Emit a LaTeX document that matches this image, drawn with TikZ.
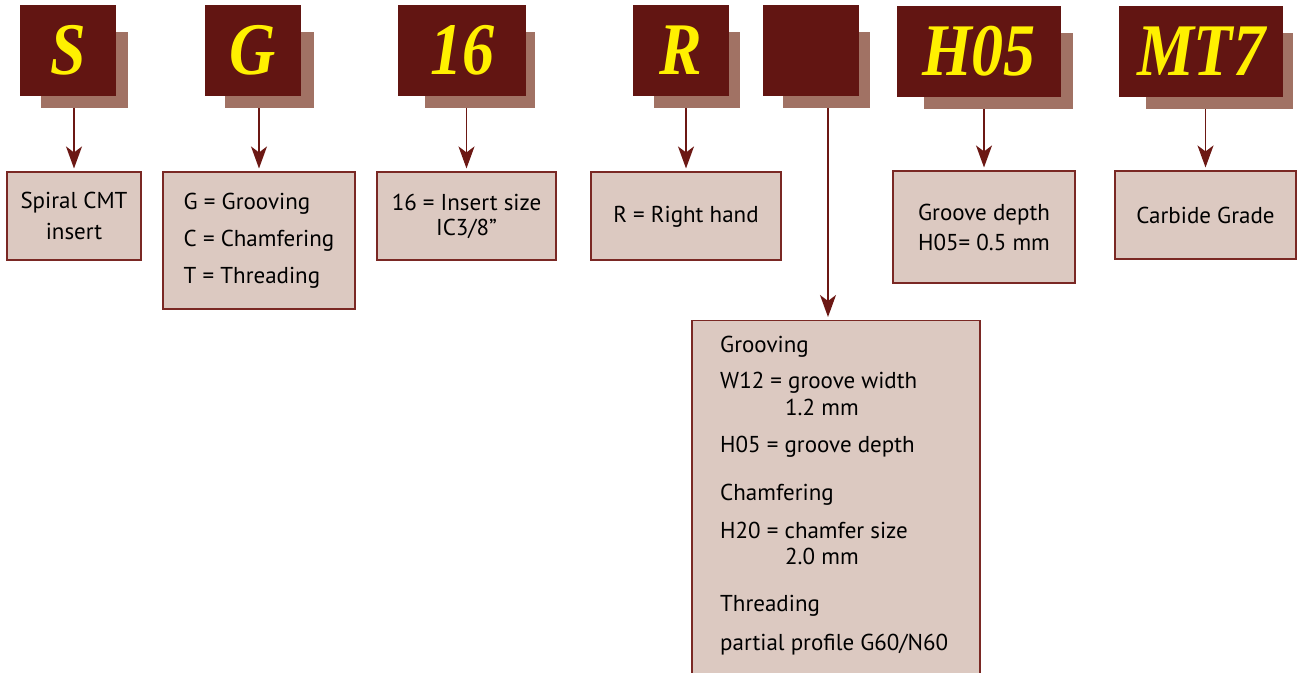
\documentclass[tikz,border=0pt]{standalone}
\usepackage{fontspec}
\setmainfont{PT Sans}
\newfontfamily\codefont{Liberation Serif}
\usepackage{tikz}
\usetikzlibrary{arrows.meta}

\definecolor{codered}{RGB}{98,21,18}
\definecolor{codeshade}{RGB}{161,114,100}
\definecolor{codeyellow}{RGB}{255,240,0}
\definecolor{notefill}{RGB}{220,201,193}
\definecolor{noteline}{RGB}{122,40,36}
\definecolor{arrowred}{RGB}{108,24,20}

\newcommand{\tallcode}[1]{\scalebox{1}[1.16]{#1}}

\begin{document}
\begin{tikzpicture}[x=1pt,y=-1pt,
    letter/.style={fill=codered,minimum height=91pt,inner sep=0pt,text=codeyellow,
      font=\codefont\bfseries\itshape\fontsize{64}{64}\selectfont},
    shade/.style={fill=codeshade,minimum height=76pt,inner sep=0pt},
    note/.style={draw=noteline,line width=1.1pt,fill=notefill,inner sep=0pt,align=center,
      font=\fontsize{23}{26}\selectfont},
    link/.style={draw=arrowred,line width=1.4pt,-{Stealth[length=22pt,width=16pt,inset=6pt]},
      shorten >=3pt}]
  \useasboundingbox (0,0) rectangle (1298,672);

  % Code letters (shadow first)
  \node[shade,minimum width=87pt] (sS) at (84.5,70) {};
  \node[letter,minimum width=96pt] (lS) at (68,50.5) {\tallcode{S}};
  \node[shade,minimum width=89pt] (sG) at (269.5,70) {};
  \node[letter,minimum width=96pt] (lG) at (253,50.5) {\tallcode{G}};
  \node[shade,minimum width=110pt] (s16) at (480,70) {};
  \node[letter,minimum width=128pt] (l16) at (462,50.5) {\tallcode{16}};
  \node[shade,minimum width=86pt] (sR) at (697,70) {};
  \node[letter,minimum width=96pt] (lR) at (681,50.5) {\tallcode{R}};
  \node[shade,minimum width=87pt] (sX) at (826.5,70) {};
  \node[letter,minimum width=96pt] (lX) at (811,50.5) {};
  \node[shade,minimum width=149pt] (sH) at (998.5,71) {};
  \node[letter,minimum width=164pt] (lH) at (979,51.5) {\tallcode{H05}};
  \node[shade,minimum width=147pt] (sM) at (1219.5,71) {};
  \node[letter,minimum width=164pt] (lM) at (1201,51.5) {\tallcode{MT7}};

  % Meaning of each letter
  \node[note,minimum width=134pt,minimum height=88pt] (nS) at (74,216) {Spiral CMT\\[5pt]insert};
  \node[note,align=left,minimum width=192pt,minimum height=137pt] (nG) at (259,240.5)
    {G = Grooving\\[11pt]C = Chamfering\\[11pt]T = Threading};
  \node[note,minimum width=179pt,minimum height=88pt] (n16) at (466.5,216) {16 = Insert size\\[-1pt]IC3/8\symbol{34}};
  \node[note,minimum width=190pt,minimum height=88pt,text depth=3pt] (nR) at (686,216) {R = Right hand};
  \node[note,minimum width=182pt,minimum height=112pt] (nH) at (984,227) {Groove depth\\[4pt]H05= 0.5 mm};
  \node[note,minimum width=181pt,minimum height=88pt] (nM) at (1205.5,215) {Carbide Grade};

  % Long box for the blank field
  \node[note,anchor=north,minimum width=288pt,minimum height=400pt] (nX) at (836,320) {};
  \node[anchor=north west,inner sep=0pt,align=left,font=\fontsize{23}{26}\selectfont] (nXtext) at (720,336)
    {Grooving\\[10pt]
     W12 = groove width\\[1pt]
     \hspace*{65pt}1.2 mm\\[11pt]
     H05 = groove depth\\[22pt]
     Chamfering\\[12pt]
     H20 = chamfer size\\
     \hspace*{65pt}2.0 mm\\[21pt]
     Threading\\[13pt]
     partial profile G60/N60};
  \coordinate (xb) at ([xshift=-8pt]nX.north);

  % Arrows
  \draw[link] (sS.south -| nS.north) -- (nS.north);
  \draw[link] (sG.south -| nG.north) -- (nG.north);
  \draw[link] (s16.south -| n16.north) -- (n16.north);
  \draw[link] (sR.south -| nR.north) -- (nR.north);
  \draw[link] (sX.south -| xb) -- (xb);
  \draw[link] (sH.south -| nH.north) -- (nH.north);
  \draw[link] (sM.south -| nM.north) -- (nM.north);
\end{tikzpicture}
\end{document}
